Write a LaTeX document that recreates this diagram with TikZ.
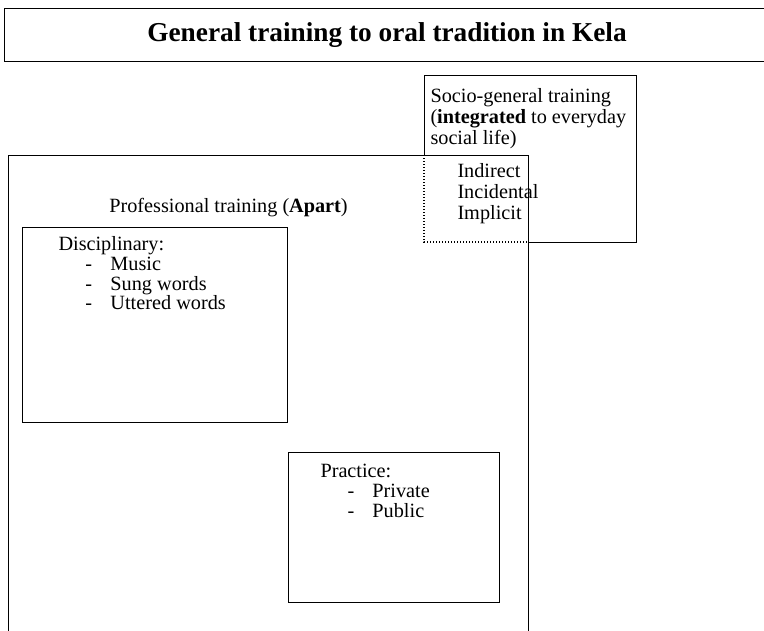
\documentclass[tikz,border=0pt]{standalone}
\usepackage{fontspec}
\setmainfont{Liberation Serif}
\usepackage{tikz}
\usetikzlibrary{positioning}
\tikzset{
  % Base styles
  diagram base/.style={
    x=1pt, y=-1pt,
    line width=1pt,
    every node/.style={font=\fontsize{20.25}{21}\selectfont},
  },
  % Boxes
  frame box/.style={rectangle, draw, inner sep=0pt, outer sep=0pt, anchor=north west},
  open box/.style={rectangle, inner sep=0pt, outer sep=0pt, anchor=north west},
  % Texts
  box text/.style={align=left, inner sep=0pt},
  list text/.style={box text, font=\fontsize{20.25}{19.8}\selectfont},
  title text/.style={font=\fontsize{27.3}{30}\selectfont\bfseries, inner sep=0pt},
  % Overlap border
  hidden edge/.style={line width=1.2pt, dash pattern=on 1.2pt off 1.8pt},
}
\newcommand{\listitem}[1]{\hspace*{27pt}\makebox[25pt][l]{-}#1}

\begin{document}
\begin{tikzpicture}[diagram base]
  \clip (0,0) rectangle (764,630);
  \node[frame box, minimum width=800pt, minimum height=53pt] (title) at (4,8) {};
  \node[title text] (title label) at (387,35) {General training to oral tradition in Kela};
  \node[frame box, minimum width=520pt, minimum height=520pt] (prof) at (8,155) {};
  \node[open box, minimum width=212pt, minimum height=167pt] (socio) at (424,75) {};
  \node[frame box, minimum width=265pt, minimum height=195pt] (disc) at (22,227) {};
  \node[frame box, minimum width=211pt, minimum height=150pt] (pract) at (288,452) {};
  \draw (socio.west |- prof.north) -- (socio.north west) -- (socio.north east)
    -- (socio.south east) -- (prof.east |- socio.south);
  \draw[hidden edge] (socio.west |- prof.north) -- (socio.south west) -- (prof.east |- socio.south);
  \node[anchor=base] (prof label) at (228.5,212) {Professional training (\textbf{Apart})};
  \node[box text, below right=13pt and 6pt of socio.north west] (socio label)
    {Socio-general training\\(\textbf{integrated} to everyday\\social life)\\[12pt]
     \hspace*{27pt}Indirect\\\hspace*{27pt}Incidental\\\hspace*{27pt}Implicit};
  \node[list text, below right=9pt and 36pt of disc.north west] (disc label)
    {Disciplinary:\\\listitem{Music}\\\listitem{Sung words}\\\listitem{Uttered words}};
  \node[list text, below right=12pt and 32pt of pract.north west] (pract label)
    {Practice:\\\listitem{Private}\\\listitem{Public}};
\end{tikzpicture}
\end{document}
